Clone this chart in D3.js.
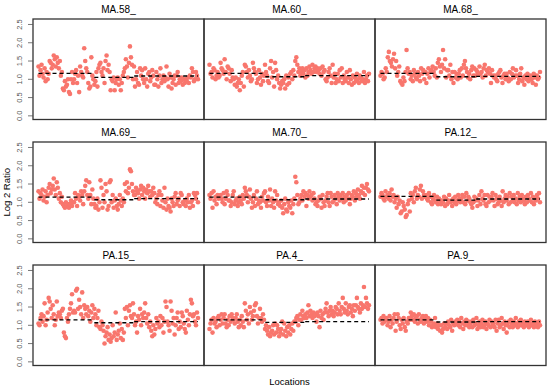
<!DOCTYPE html>
<html>
<head>
<meta charset="utf-8">
<script src="https://cdnjs.cloudflare.com/ajax/libs/d3/7.8.5/d3.min.js"></script>
<style>
    body { margin: 0; background: #fff; }
    #chart-area { width: 550px; height: 389px; }
    .panel-title, .axis-label { font-family: "Liberation Sans", Arial, sans-serif; fill: #000; }
    .tick-label { font-family: "Liberation Sans", Arial, sans-serif; fill: #555; }
</style>
</head>
<body>
<div id="chart-area"></div>
<script>
// sample names, in reading order (3 x 3 grid)
const sampleNames = ["MA.58_", "MA.60_", "MA.68_", "MA.69_", "MA.70_", "PA.12_", "PA.15_", "PA.4_", "PA.9_"];

// log2 ratio per location, left to right
const ma58 = [1.35,1.1,1.25,1.4,1.15, 1.05,1.3,0.95,1.2,1.0, 1.15,1.5,1.45,1.3,1.4, 1.65,1.55,1.35,1.6,1.45, 1.3,1.5,1.1,1.2,0.75, 0.7,0.95,0.8,0.85,1.0, 0.65,0.6,1.0,1.2,0.9, 1.0,1.15,1.25,0.9,1.1, 0.65,1.35,1.2,1.1,1.05, 1.85,1.5,1.3,1.2,0.9, 0.75,0.8,1.6,1.1,1.0, 0.85,0.95,1.2,0.8,1.3, 1.4,1.45,1.2,1.1,1.3, 0.9,1.5,1.65,1.25,1.4, 1.2,0.7,1.0,0.95,1.05, 0.7,0.9,1.0,1.05,0.85, 1.0,0.7,0.9,1.1,1.2, 1.3,1.55,1.35,1.05,1.45, 1.9,1.6,1.4,1.0,1.35, 0.8,1.0,1.2,0.9,0.85, 1.3,1.1,1.25,1.0,0.9, 1.3,1.0,0.8,1.15,1.2, 0.95,1.05,1.25,1.1,0.85, 0.85,1.2,1.0,0.8,1.1, 1.3,0.9,1.0,1.1,0.95, 1.05,1.35,1.0,0.8,1.15, 1.05,0.75,0.9,1.0,1.1, 0.85,1.1,1.2,0.9,1.0, 0.95,1.05,0.85,1.0,0.9, 1.0,0.95,1.05,0.9,1.1, 1.05,1.3,1.2,0.95,1.0, 1.2,1.1,1.0];
const ma60 = [1.4,1.15,1.2,1.05,1.3, 1.25,1.0,1.1,1.2,1.05, 1.1,1.45,1.3,1.25,1.15, 1.55,1.2,1.0,1.35,1.3, 1.15,0.95,1.25,1.05,1.0, 0.85,1.05,0.8,0.9,1.0, 0.7,0.9,1.1,1.2,0.8, 1.4,1.35,1.2,1.05,1.25, 1.1,0.95,1.0,1.45,1.3, 1.2,1.15,0.9,1.0,1.25, 1.05,0.85,1.15,0.95,1.1, 1.4,1.2,1.1,0.95,0.9, 1.3,1.5,1.05,1.2,0.8, 1.45,1.25,1.0,1.1,0.9, 0.75,0.85,0.95,0.9,1.0, 0.75,1.1,0.85,1.05,0.9, 1.15,1.2,1.0,1.25,1.1, 1.5,1.6,1.4,1.2,1.3, 1.1,1.2,1.3,1.15,1.25, 1.05,1.3,1.1,1.2,1.35, 1.25,1.15,1.4,1.2,1.3, 1.35,1.2,1.3,1.25,1.15, 1.3,1.1,1.35,1.2,1.25, 1.0,0.95,1.05,1.2,1.3, 1.1,0.9,1.4,1.05,1.15, 0.9,1.0,1.15,0.95,1.25, 1.05,1.3,0.9,1.1,1.0, 0.95,1.2,1.05,0.9,1.25, 1.0,0.85,1.1,0.9,1.05, 0.95,1.15,1.0,0.9,1.1, 1.05,0.95,1.0,1.2,0.9, 1.0,1.1,0.95,1.15];
const ma68 = [1.1,1.2,1.15,1.0,1.05, 1.3,1.2,1.6,1.75,1.5, 1.45,1.35,1.55,1.7,1.3, 1.5,1.1,1.2,1.35,0.95, 0.9,0.85,1.05,0.95,1.2, 1.8,1.3,1.15,1.2,1.0, 1.1,0.95,1.25,1.15,1.05, 1.0,1.2,1.1,0.95,1.3, 1.15,1.25,1.0,1.2,0.9, 1.15,1.3,1.05,1.2,1.25, 1.35,1.2,1.1,1.3,1.05, 1.45,1.55,1.35,1.2,1.4, 1.8,1.3,1.55,1.05,1.25, 1.25,1.1,1.4,1.0,1.2, 0.9,1.2,1.05,1.15,1.0, 1.15,1.25,1.05,1.3,1.1, 1.4,1.5,1.3,1.2,1.05, 1.15,1.0,1.25,1.35,1.1, 1.3,1.1,1.25,1.2,1.15, 1.35,1.15,1.2,1.05,1.3, 1.4,1.1,1.25,1.2,1.3, 1.15,0.9,1.25,1.1,1.05, 1.1,1.0,0.95,1.15,1.2, 1.25,1.05,0.9,1.1,1.15, 1.0,1.15,1.05,0.95,1.2, 1.0,1.15,1.3,1.05,1.1, 1.25,1.1,0.9,1.0,1.15, 1.3,0.95,1.05,0.85,1.1, 1.0,1.15,0.95,1.05,1.1, 1.0,0.9,1.15,1.05,0.85, 1.1,1.0,1.05,1.2];
const ma69 = [1.3,1.1,1.25,1.2,1.35, 1.05,1.15,1.3,1.0,1.2, 1.4,1.5,1.25,1.35,1.45, 1.65,1.35,1.2,1.55,1.4, 1.1,1.25,1.0,1.15,0.95, 0.9,0.85,1.0,0.9,0.95, 0.85,0.95,1.05,0.9,1.0, 1.0,1.25,1.1,0.9,1.2, 1.15,1.05,1.3,1.2,0.95, 1.3,1.45,1.6,1.2,1.1, 1.55,1.2,0.95,1.35,1.1, 0.95,0.85,0.9,1.1,0.8, 1.0,1.6,1.4,0.85,1.2, 1.0,1.5,1.3,0.8,0.9, 1.55,1.6,1.0,1.2,0.85, 1.05,1.1,0.9,0.8,0.95, 1.2,1.05,0.9,1.1,1.0, 1.5,1.3,1.55,1.25,1.4, 1.9,1.85,1.5,1.3,1.2, 1.2,1.4,1.3,1.25,1.1, 1.35,1.45,1.2,1.4,1.3, 1.1,1.35,1.25,1.45,1.3, 1.15,1.3,1.2,1.4,1.25, 1.0,1.1,0.95,1.2,1.3, 0.9,1.2,1.05,0.85,1.4, 1.0,0.8,1.1,0.9,0.85, 0.75,1.1,1.0,0.9,1.15, 1.25,0.95,1.05,1.1,0.9, 1.25,1.2,1.0,0.95,1.05, 0.9,1.1,1.0,1.2,0.85, 1.0,1.05,0.9,1.25,1.2, 1.1,1.25,1.0];
const ma70 = [1.2,1.1,1.25,0.85,1.3, 1.05,1.15,0.95,1.2,1.1, 1.15,1.2,1.1,1.0,1.25, 0.95,1.1,1.3,1.2,1.05, 1.05,0.9,1.0,1.2,1.3, 0.95,1.05,1.1,0.9,1.0, 1.15,1.05,0.95,1.2,1.1, 1.4,1.3,1.2,1.0,1.15, 1.35,1.1,0.85,1.0,1.2, 0.9,1.1,1.3,0.95,1.05, 1.0,0.85,1.15,1.05,1.25, 1.3,1.0,0.9,1.15,1.05, 1.35,0.9,1.1,1.0,0.85, 1.3,1.05,1.2,0.95,1.0, 0.9,1.05,0.85,0.7,0.95, 1.1,0.8,0.75,1.0,0.9, 0.85,1.05,0.7,0.95,1.1, 1.7,1.55,1.2,0.95,1.0, 1.1,1.2,1.05,1.3,1.15, 1.25,0.9,1.2,1.1,1.3, 1.15,1.2,1.05,1.25,1.1, 0.95,1.0,0.9,1.05,1.15, 1.1,0.85,1.2,1.0,0.9, 1.05,1.15,1.25,1.0,0.9, 1.25,1.15,1.0,1.05,1.2, 1.1,0.95,1.25,1.15,1.05, 1.2,1.1,1.25,1.0,1.15, 1.05,1.2,1.1,1.25,0.95, 1.1,1.2,1.15,1.3,1.05, 1.25,1.15,1.35,1.2,1.1, 1.3,1.45,1.25,1.4,1.2, 1.4,1.5,1.35,1.3];
const pa12 = [1.15,1.25,1.2,1.1,1.05, 1.3,1.15,1.2,1.1,1.25, 1.05,1.35,1.15,1.2,1.0, 1.1,0.85,1.15,0.95,1.05, 0.7,0.75,1.0,0.9,0.8, 0.6,0.65,0.95,1.05,0.75, 1.25,1.1,1.2,1.0,1.3, 1.4,1.1,1.2,1.15,1.35, 1.45,1.1,1.3,1.2,1.15, 1.2,1.1,1.05,1.25,1.15, 1.0,0.95,1.1,1.2,1.05, 1.0,1.15,0.95,1.1,1.05, 0.95,1.05,1.0,1.15,0.9, 1.1,0.95,1.05,1.2,1.0, 1.05,0.9,1.1,1.0,1.15, 0.95,1.05,1.2,1.1,1.0, 1.1,1.2,1.0,1.15,0.95, 1.25,1.05,1.15,1.1,1.0, 0.95,0.85,1.0,1.15,1.05, 1.1,0.9,1.05,1.2,0.95, 1.3,1.1,1.05,1.2,0.95, 0.9,1.2,1.0,1.15,1.05, 1.15,1.25,1.05,0.9,1.2, 1.1,0.95,1.0,1.15,1.05, 0.9,1.3,1.0,1.1,1.2, 1.05,1.15,0.95,1.25,1.0, 1.15,1.05,1.2,1.0,1.1, 0.95,1.25,1.05,1.15,1.0, 1.2,1.1,1.05,0.95,1.15, 1.0,1.2,1.1,1.05,1.25, 1.0,1.15,0.95,1.1,1.05, 1.2,1.1,1.25,1.0];
const pa15 = [1.05,1.0,1.2,1.3,1.1, 1.25,1.6,1.0,1.15,1.35, 1.75,1.65,1.45,1.2,1.55, 1.3,1.0,1.15,1.65,1.25, 1.35,1.3,1.2,1.4,1.45, 0.8,0.7,0.65,1.2,1.1, 1.3,1.45,1.6,1.85,1.35, 1.4,1.35,1.95,2.0,1.45, 1.7,1.5,1.3,1.9,1.2, 1.55,1.45,1.3,1.5,1.25, 1.4,1.1,1.35,1.55,1.2, 1.45,1.3,1.0,1.2,1.4, 0.95,0.9,1.1,1.0,0.85, 0.5,0.7,0.8,0.95,0.6, 0.75,0.55,0.65,1.0,0.7, 0.8,1.35,0.6,0.75,0.85, 1.05,0.65,0.9,0.6,0.8, 1.45,1.2,1.5,1.0,1.4, 1.55,1.25,1.2,1.6,1.3, 1.0,1.1,0.8,1.25,1.15, 1.45,1.0,1.3,1.2,1.35, 1.6,1.2,1.05,1.3,0.95, 1.1,0.85,0.7,1.0,0.75, 0.9,1.2,1.05,1.1,0.95, 1.25,1.0,1.2,0.8,1.1, 1.65,1.5,1.1,1.0,0.85, 1.65,1.4,1.05,1.2,0.75, 1.0,1.2,1.35,0.9,1.1, 0.95,1.35,1.25,1.05,0.9, 0.8,1.4,1.15,1.0,1.3, 1.7,1.6,1.25,1.3,1.1, 1.0,1.35,1.2];
const pa4 = [0.9,1.05,1.15,0.8,1.2, 1.05,1.1,0.95,1.2,1.25, 1.0,1.15,1.3,1.05,1.2, 1.3,1.05,0.95,1.15,1.0, 1.25,1.1,1.3,1.2,1.15, 1.05,1.2,1.3,1.1,0.95, 1.15,1.0,1.25,1.1,0.95, 1.6,1.4,1.15,1.3,1.05, 1.5,1.35,1.15,1.25,1.4, 1.55,1.6,1.25,1.05,1.2, 1.45,1.2,1.1,1.3,1.15, 0.9,1.0,0.85,0.75,0.95, 0.7,0.8,0.85,1.0,0.75, 1.05,0.8,1.0,0.9,0.7, 0.8,0.9,1.1,0.75,1.05, 0.85,0.7,0.95,0.8,1.0, 0.75,0.9,1.05,0.85,1.1, 1.1,1.2,1.25,1.0,1.15, 1.3,1.15,1.4,1.25,1.2, 1.3,1.2,1.35,1.55,1.25, 1.4,1.3,1.2,1.35,1.25, 1.3,1.1,1.35,1.25,0.95, 1.4,1.2,1.3,1.15,1.35, 1.45,1.6,1.35,1.25,1.4, 1.5,1.3,1.4,1.25,1.35, 1.5,1.45,1.3,1.6,1.4, 1.3,1.5,1.75,1.45,1.35, 1.6,1.4,1.3,1.5,1.55, 1.35,1.45,1.25,1.55,1.4, 1.55,1.75,1.5,1.45,1.35, 1.6,1.45,1.55,2.05,1.5, 1.75,1.6,1.45,1.55];
const pa9 = [1.15,1.2,1.05,1.25,1.1, 1.15,1.2,1.0,1.1,1.25, 0.95,1.15,1.05,1.2,1.3, 0.85,1.1,1.3,1.2,1.0, 0.9,1.15,1.05,1.2,0.95, 0.85,1.1,1.05,1.2,1.15, 1.35,1.25,1.15,1.3,1.1, 1.2,1.25,1.05,1.3,1.15, 1.1,1.2,1.25,1.05,1.15, 1.25,1.1,1.2,1.0,1.15, 1.1,0.95,1.0,1.05,1.2, 0.95,1.05,0.9,1.0,0.85, 1.0,0.8,0.9,1.05,0.95, 1.05,0.9,1.1,1.0,0.95, 1.15,0.85,1.05,1.0,1.1, 1.05,1.15,1.0,1.1,0.95, 1.2,1.05,0.9,1.1,1.0, 1.15,1.0,1.1,0.95,1.05, 1.1,0.95,1.15,1.0,1.05, 1.2,0.9,1.0,1.1,0.95, 1.05,1.15,0.95,1.0,1.1, 0.9,1.05,1.0,1.15,0.95, 1.1,1.0,1.05,0.95,1.15, 0.85,1.05,1.15,0.95,1.0, 1.2,1.05,0.9,1.1,1.0, 0.8,1.0,1.1,0.95,1.15, 1.05,0.95,1.1,1.0,1.2, 1.05,0.95,1.1,1.0,1.15, 1.0,1.05,0.95,1.1,1.05, 1.0,1.1,0.95,1.05,1.15, 1.0,1.05,0.95,1.1,1.0, 1.05,0.95,1.1,1.0];

const seriesValues = [ma58, ma60, ma68, ma69, ma70, pa12, pa15, pa4, pa9];

// segment means (dashed lines), three segments per sample
const segmentLevels = [
    [1.16, 1.05, 1.09],
    [1.16, 1.07, 1.10],
    [1.16, 1.07, 1.08],
    [1.14, 1.07, 1.10],
    [1.14, 1.07, 1.09],
    [1.16, 1.06, 1.09],
    [1.15, 1.07, 1.10],
    [1.15, 1.08, 1.10],
    [1.15, 1.09, 1.10]
];
// segment boundaries as share of the location range
const segmentBreaks = [0, 0.35, 0.6, 1];

const yTicks = [0, 0.5, 1, 1.5, 2, 2.5];
const yTickLabels = ["0.0", "0.5", "1.0", "1.5", "2.0", "2.5"];

class PanelGrid {

    constructor(parentElement) {
        this.parentElement = parentElement;
        this.initVis();
    }

    initVis() {
        let vis = this;

        vis.margin = {top: 19, right: 4, bottom: 24, left: 33};
        vis.cols = 3;
        vis.panelW = 171;
        vis.panelH = 100.5;
        vis.rowGap = 22.5;

        vis.svg = d3.select("#" + vis.parentElement).append("svg")
            .attr("width", 550)
            .attr("height", 389);

        vis.y = d3.scaleLinear()
            .domain([-0.1, 2.65])
            .range([vis.panelH, 0]);

        // y-axis label
        vis.svg.append("text")
            .attr("class", "axis-label")
            .attr("transform", "translate(10," + (vis.margin.top + (3 * vis.panelH + 2 * vis.rowGap) / 2) + ") rotate(-90)")
            .attr("text-anchor", "middle")
            .style("font-size", "9.5px")
            .text("Log 2 Ratio");

        // x-axis label
        vis.svg.append("text")
            .attr("class", "axis-label")
            .attr("x", vis.margin.left + vis.cols * vis.panelW / 2)
            .attr("y", 384.5)
            .attr("text-anchor", "middle")
            .style("font-size", "9.5px")
            .text("Locations");

        vis.updateVis();
    }

    updateVis() {
        let vis = this;

        sampleNames.forEach((name, i) => {
            let col = i % vis.cols;
            let row = Math.floor(i / vis.cols);
            let values = seriesValues[i];

            let g = vis.svg.append("g")
                .attr("transform", "translate(" + (vis.margin.left + col * vis.panelW) + "," + (vis.margin.top + row * (vis.panelH + vis.rowGap)) + ")");

            let x = d3.scaleLinear()
                .domain([0, values.length - 1])
                .range([5.5, vis.panelW - 6]);

            // title
            g.append("text")
                .attr("class", "panel-title")
                .attr("x", vis.panelW / 2)
                .attr("y", -6.5)
                .attr("text-anchor", "middle")
                .style("font-size", "10px")
                .text(name);

            // points
            g.selectAll("circle")
                .data(values)
                .enter().append("circle")
                .attr("cx", (d, j) => x(j))
                .attr("cy", d => vis.y(d))
                .attr("r", 2.3)
                .attr("fill", "#F8766D");

            // dashed segment means
            let segs = segmentLevels[i].map((lvl, k) => ({
                x0: segmentBreaks[k] * (values.length - 1),
                x1: segmentBreaks[k + 1] * (values.length - 1),
                level: lvl
            }));
            g.selectAll("line.seg")
                .data(segs)
                .enter().append("line")
                .attr("class", "seg")
                .attr("x1", d => x(d.x0))
                .attr("x2", d => x(d.x1))
                .attr("y1", d => vis.y(d.level))
                .attr("y2", d => vis.y(d.level))
                .attr("stroke", "#000")
                .attr("stroke-width", 1.3)
                .attr("stroke-dasharray", "4,3");

            // frame
            g.append("rect")
                .attr("width", vis.panelW)
                .attr("height", vis.panelH)
                .attr("fill", "none")
                .attr("stroke", "#333")
                .attr("stroke-width", 1.3);

            // y axis on the left column only
            if (col === 0) {
                let axis = g.append("g");
                axis.selectAll("line")
                    .data(yTicks)
                    .enter().append("line")
                    .attr("x1", -5)
                    .attr("x2", 0)
                    .attr("y1", d => vis.y(d))
                    .attr("y2", d => vis.y(d))
                    .attr("stroke", "#555")
                    .attr("stroke-width", 0.8);
                axis.selectAll("text")
                    .data(yTicks)
                    .enter().append("text")
                    .attr("class", "tick-label")
                    .attr("transform", d => "translate(-11," + vis.y(d) + ") rotate(-90)")
                    .attr("text-anchor", "middle")
                    .style("font-size", "7.5px")
                    .text((d, k) => yTickLabels[k]);
            }
        });
    }
}

let panelGrid = new PanelGrid("chart-area");
</script>
</body>
</html>
